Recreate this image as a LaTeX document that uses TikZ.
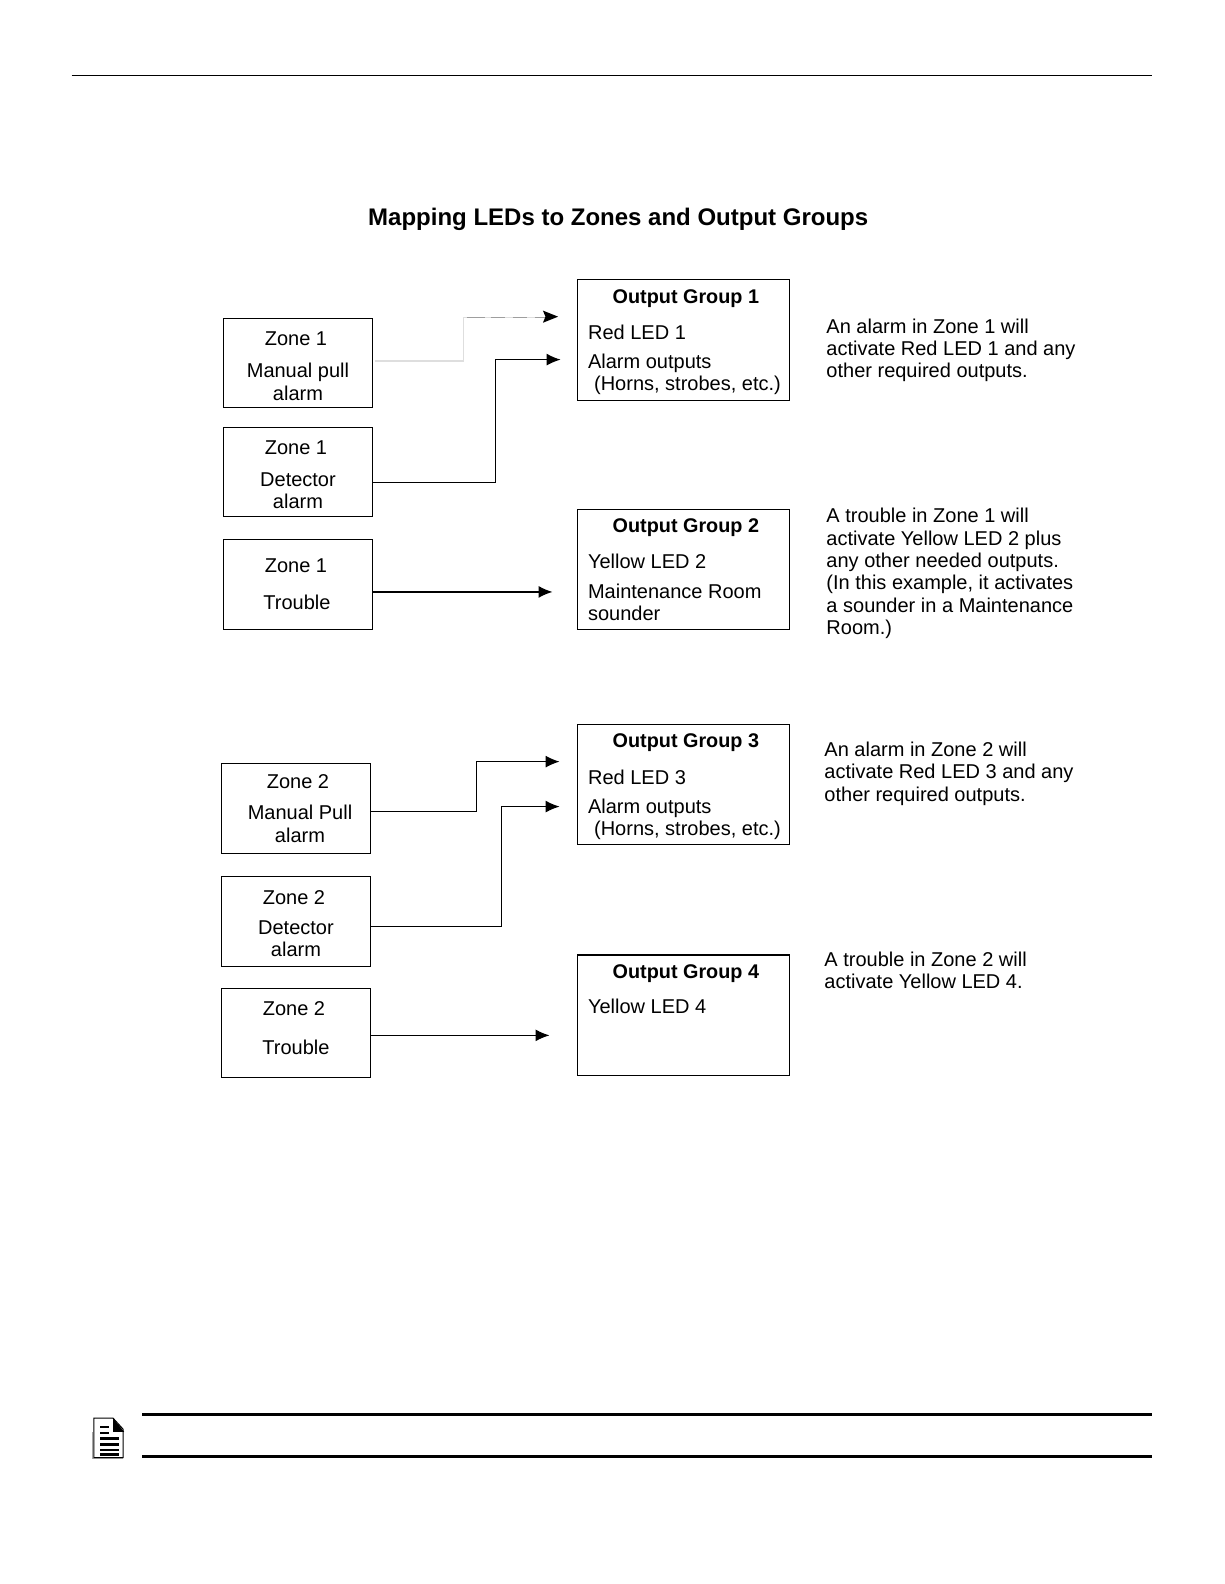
\documentclass[tikz,border=0pt]{standalone}
\usepackage{fontspec}
\setmainfont{Liberation Sans}
\usetikzlibrary{arrows.meta}
\tikzset{
  x=1.0101pt,y=-1.0101pt,
  boxn/.style={draw=black,line width=1.3pt,inner sep=0pt,outer sep=0pt,anchor=north west},
  lab/.style={inner sep=0pt,font=\fontsize{20}{24}\selectfont,anchor=base},
  labl/.style={lab,anchor=base west},
  head/.style={inner sep=0pt,font=\fontsize{19.8}{24}\selectfont\bfseries,anchor=base},
  conn/.style={draw=black,line width=1.3pt,-{Latex[length=14pt,width=12pt]}},
  faint/.style={draw=black!13,line width=1.3pt},
  rule/.style={draw=black,line width=3pt}
}
\newcommand{\bx}[5]{\node[boxn,minimum width=#4*1.0101pt,minimum height=#5*1.0101pt] (#1) at (#2,#3) {};}
\begin{document}
\begin{tikzpicture}
\useasboundingbox (0pt,0pt) rectangle (1224pt,-1584pt);
\fill[white] (0pt,0pt) rectangle (1224pt,-1584pt);
\coordinate (tl) at (71,74.5); \coordinate (tr) at (1140,74.5);
\draw[black,line width=1.3pt] (tl) -- (tr);
\node[inner sep=0pt,font=\fontsize{24}{28}\selectfont\bfseries,anchor=base] (title) at (612,223) {Mapping LEDs to Zones and Output Groups};
% left boxes
\bx{za}{221}{315.5}{148}{88}
\bx{zb}{221}{423.5}{148}{88}
\bx{zc}{221}{534}{148}{89}
\bx{zd}{219}{756}{148}{89}
\bx{ze}{219}{868}{148}{89}
\bx{zf}{219}{978.5}{148}{88}
% output boxes
\bx{oa}{572}{277}{209.5}{119.5}
\bx{ob}{572}{504.5}{209.5}{119}
\bx{oc}{572}{717}{209.5}{119}
\bx{od}{572}{945.5}{209.5}{119}
% left texts
\node[lab] (t1) at (293,342) {Zone 1};
\node[lab] (t2) at (295,374) {Manual pull};
\node[lab] (t3) at (295,396) {alarm};
\node[lab] (t4) at (293,450) {Zone 1};
\node[lab] (t5) at (295,482) {Detector};
\node[lab] (t6) at (295,503) {alarm};
\node[lab] (t7) at (293,567) {Zone 1};
\node[lab] (t8) at (294,603) {Trouble};
\node[lab] (t9) at (295,781) {Zone 2};
\node[lab] (t10) at (297,811) {Manual Pull};
\node[lab] (t11) at (297,834) {alarm};
\node[lab] (t12) at (291,895) {Zone 2};
\node[lab] (t13) at (293,925) {Detector};
\node[lab] (t14) at (293,947) {alarm};
\node[lab] (t15) at (291,1005) {Zone 2};
\node[lab] (t16) at (293,1044) {Trouble};
% output texts
\node[head] (h1) at (679,300) {Output Group 1};
\node[labl] (o1) at (582,336) {Red LED 1};
\node[labl] (o2) at (582,365) {Alarm outputs};
\node[labl] (o3) at (588,387) {(Horns, strobes, etc.)};
\node[head] (h2) at (679,527) {Output Group 2};
\node[labl] (o4) at (582,563) {Yellow LED 2};
\node[labl] (o5) at (582,593) {Maintenance Room};
\node[labl] (o6) at (582,614) {sounder};
\node[head] (h3) at (679,740) {Output Group 3};
\node[labl] (o7) at (582,777) {Red LED 3};
\node[labl] (o8) at (582,805) {Alarm outputs};
\node[labl] (o9) at (588,827) {(Horns, strobes, etc.)};
\node[head] (h4) at (679,969) {Output Group 4};
\node[labl] (o10) at (582,1003) {Yellow LED 4};
% notes
\node[labl] (n1) at (818,330) {An alarm in Zone 1 will};
\node[labl] (n2) at (818,352) {activate Red LED 1 and any};
\node[labl] (n3) at (818,374) {other required outputs.};
\node[labl] (n4) at (818,517) {A trouble in Zone 1 will};
\node[labl] (n5) at (818,540) {activate Yellow LED 2 plus};
\node[labl] (n6) at (818,562) {any other needed outputs.};
\node[labl] (n7) at (818,584) {(In this example, it activates};
\node[labl] (n8) at (818,606) {a sounder in a Maintenance};
\node[labl] (n9) at (818,628) {Room.)};
\node[labl] (n10) at (816,749) {An alarm in Zone 2 will};
\node[labl] (n11) at (816,771) {activate Red LED 3 and any};
\node[labl] (n12) at (816,793) {other required outputs.};
\node[labl] (n13) at (816,957) {A trouble in Zone 2 will};
\node[labl] (n14) at (816,979) {activate Yellow LED 4.};
% connectors
\coordinate (ea) at (552.5,313.5);
\coordinate (eb) at (555,356);
\coordinate (ec) at (547,586);
\coordinate (ed) at (554,754);
\coordinate (ee) at (554,798.5);
\coordinate (ef) at (544,1025);
\coordinate (sa) at (371,357.5);
\coordinate (sb) at (369,477.5);
\coordinate (sc) at (369,586);
\coordinate (sd) at (367,803.5);
\coordinate (se) at (367,917);
\coordinate (sf) at (367,1025);
\draw[faint] (sa) -- (459,357.5) -- (459,314) -- (540,314);
\draw[line width=1.3pt,dash pattern=on 18pt off 6pt on 14pt off 8pt on 14pt off 8pt,draw=black!38] (462,314) -- (540,314);
\fill[black] (ea) -- (537.5,307.5) -- (540,313.5) -- (537.5,319.5) -- cycle;
\draw[conn] (sb) -- (490.5,477.5) -- (490.5,356) -- (eb);
\draw[conn] (sc) -- (ec);
\draw[conn] (sd) -- (471.5,803.5) -- (471.5,754) -- (ed);
\draw[conn] (se) -- (496.5,917) -- (496.5,798.5) -- (ee);
\draw[conn] (sf) -- (ef);
% note icon
\coordinate (ra) at (141,1400); \coordinate (rb) at (1140,1400);
\coordinate (rc) at (141,1441.5); \coordinate (rd) at (1140,1441.5);
\draw[rule] (ra) -- (rb);
\draw[rule] (rc) -- (rd);
\draw[black!35,line width=1pt] (92,1418) -- (92,1443.5) -- (122,1443.5);
\draw[black,line width=1pt,fill=white] (93,1417) -- (93,1417.5) -- (93,1404) -- (112,1404) -- (122,1415) -- (122,1443) -- (93,1443) -- cycle;
\fill[black] (112,1404) -- (123,1417.5) -- (112,1417.5) -- cycle;
\foreach \a/\b/\c in {1414/99/108,1420/99/108,1425/99/118,1431/99/118,1436.5/99/118,1441/99/118}
  \draw[black,line width=2.2pt] (\b,\a-1) -- (\c,\a-1);
\end{tikzpicture}
\end{document}
